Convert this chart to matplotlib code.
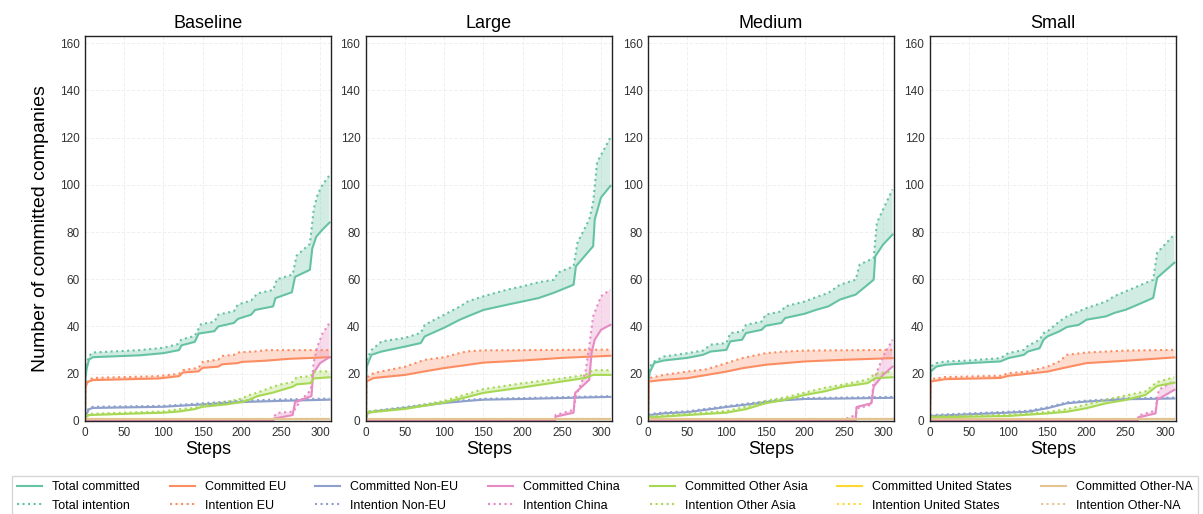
import matplotlib
matplotlib.use("Agg")
import matplotlib.pyplot as plt
from matplotlib.lines import Line2D

plt.rcParams['font.family'] = ['Liberation Sans', 'DejaVu Sans']

panels = ['Baseline', 'Large', 'Medium', 'Small']
regions = ['Total', 'EU', 'Non-EU', 'China', 'Other Asia', 'United States', 'Other-NA']
colors = ['#66c2a5', '#fc8d62', '#8da0cb', '#e78ac3', '#a6d854', '#ffd92f', '#e5c494']

# (step, value) points: committed and intention per region
baseline_committed = {
    'Total': [(0, 0), (0.5, 18), (2, 22), (5, 26), (10, 27), (70, 27.8), (100, 28.7), (120, 30), (123, 32),
              (140, 33.5), (145, 37), (165, 38), (170, 40), (190, 41.5), (195, 43.2), (212, 45), (217, 47),
              (240, 48.5), (243, 52), (264, 54.5), (268, 61), (287, 64), (290, 73), (295, 78), (303, 81), (312, 84)],
    'EU': [(0, 0), (0.5, 14), (3, 16.5), (10, 17.3), (95, 18), (120, 19), (125, 20.5), (145, 21), (150, 22.5),
           (170, 23), (175, 24), (195, 24.5), (200, 25), (230, 25.5), (260, 26.3), (312, 27)],
    'Non-EU': [(0, 0), (0.5, 2), (5, 5), (10, 5.5), (100, 6), (150, 7), (200, 8), (250, 8.5), (312, 9)],
    'China': [(0, 0), (240, 0), (241, 1), (265, 2.5), (268, 8), (289, 10.5), (291, 20), (300, 24.5), (312, 27)],
    'Other Asia': [(0, 0), (0.5, 1.5), (5, 2.5), (50, 3), (100, 3.5), (120, 4), (140, 5), (150, 6), (180, 7),
                   (200, 8), (210, 9), (220, 10.5), (240, 12), (250, 13), (265, 14.5), (270, 15.5), (288, 16),
                   (292, 18), (312, 18.5)],
}
baseline_intention = {
    'Total': [(0, 0), (0.5, 20), (2, 24), (5, 27.5), (10, 29), (70, 30), (100, 31), (118, 32.5), (123, 34.5),
              (140, 36), (148, 41), (165, 42), (170, 45), (190, 46.5), (195, 49.3), (212, 51), (220, 54),
              (240, 55.5), (245, 60), (265, 62), (270, 70), (287, 75), (292, 90), (297, 96), (303, 100), (312, 104)],
    'EU': [(0, 0), (0.5, 15), (5, 17.5), (10, 18.2), (95, 19), (120, 20), (125, 21.5), (145, 22.5), (150, 25),
           (170, 26), (175, 27.5), (190, 28), (195, 29), (220, 29.5), (230, 30), (312, 30)],
    'Non-EU': [(0, 0), (0.5, 2.5), (5, 5.5), (10, 6), (100, 6.4), (150, 7.5), (200, 8.6), (250, 9.1), (312, 9.5)],
    'China': [(0, 0), (240, 0), (241, 2), (246, 3.4), (266, 4), (276, 9), (288, 13), (292, 25), (296, 31),
              (303, 37), (312, 41.5)],
    'Other Asia': [(0, 0), (0.5, 2), (5, 3), (50, 3.5), (100, 4), (120, 5), (140, 5.5), (150, 6.8), (180, 8),
                   (200, 9.5), (210, 11), (220, 12), (240, 14.5), (250, 15.5), (265, 16.5), (270, 18.5),
                   (288, 19), (292, 21), (312, 21)],
}

large_committed = {
    'Total': [(0, 0), (0.5, 20), (1, 23), (7, 28), (20, 29.4), (50, 31.5), (70, 33), (75, 35.8), (100, 39.5),
              (120, 42.9), (130, 44.3), (150, 47), (180, 49.2), (200, 50.6), (220, 52), (240, 54.3), (260, 57),
              (265, 57.7), (268, 65.5), (290, 74), (292, 85.3), (300, 94.6), (312, 99.5)],
    'EU': [(0, 0), (0.5, 16.7), (10, 18.2), (50, 19.5), (75, 21), (100, 22.4), (120, 23.3), (150, 24.7),
           (200, 25.6), (250, 26.7), (312, 27.6)],
    'Non-EU': [(0, 0), (2, 3.4), (10, 4), (50, 5.5), (100, 7.6), (130, 8.5), (150, 9), (200, 9.3), (250, 9.7),
               (312, 10.2)],
    'China': [(0, 0), (241, 0), (242, 1.8), (265, 3.5), (267, 11.9), (285, 17.4), (288, 28.8), (292, 34.4),
              (300, 38.6), (312, 40.7)],
    'Other Asia': [(0, 0), (1, 3.5), (50, 5.1), (100, 7.8), (130, 10.2), (150, 11.9), (200, 14.2), (250, 16.7),
                   (280, 18.2), (290, 19.5), (312, 19.5)],
}
large_intention = {
    'Total': [(0, 0), (0.5, 22), (1, 26), (7, 30), (20, 33.7), (50, 35.2), (70, 37.3), (75, 40.7), (100, 45),
              (120, 48.5), (130, 50.6), (150, 52.8), (180, 55.6), (200, 57), (220, 58.7), (240, 59.8),
              (245, 62.8), (265, 65.5), (270, 75.5), (285, 85.3), (290, 92.5), (295, 109.5), (312, 120)],
    'EU': [(0, 0), (0.5, 18.2), (10, 20.3), (50, 23), (75, 25.9), (100, 27), (120, 28.8), (130, 29.5),
           (150, 29.9), (312, 30.2)],
    'Non-EU': [(0, 0), (2, 3.8), (10, 4.3), (50, 5.9), (100, 8), (130, 8.9), (150, 9.4), (200, 9.7), (250, 10.1),
               (312, 10.5)],
    'China': [(0, 0), (241, 0), (242, 2.5), (265, 4.7), (268, 10.3), (280, 20.4), (285, 31.5), (290, 44.3),
              (300, 52.8), (312, 55.6)],
    'Other Asia': [(0, 0), (1, 4), (50, 5.5), (100, 8.5), (130, 11.5), (150, 13.5), (200, 16), (250, 18),
                   (280, 19.5), (290, 21.5), (312, 21.5)],
}

medium_committed = {
    'Total': [(0, 0), (0.5, 16), (2, 20.4), (8, 24.6), (20, 25.6), (50, 26.7), (70, 28), (80, 29.4), (100, 30.1),
              (105, 33.7), (120, 34.4), (125, 37.2), (145, 38.6), (150, 40.3), (170, 41.5), (175, 43.6),
              (200, 45.4), (215, 47.1), (230, 48.5), (245, 51.4), (265, 53.5), (288, 59.8), (290, 69.7),
              (300, 74.7), (312, 78.9)],
    'EU': [(0, 0), (1, 16.7), (20, 17.4), (50, 18.1), (75, 19.5), (100, 20.9), (120, 22.3), (150, 23.8),
           (200, 25.2), (250, 25.9), (312, 26.6)],
    'Non-EU': [(0, 0), (2, 2.5), (20, 3.2), (50, 3.7), (80, 5), (100, 5.9), (125, 6.9), (150, 7.9), (175, 8.8),
               (200, 9.3), (250, 9.5), (312, 9.8)],
    'China': [(0, 0), (265, 0), (266, 5.9), (285, 7.5), (288, 14.6), (300, 19.5), (312, 23)],
    'Other Asia': [(0, 0), (2, 1.5), (50, 2.5), (100, 3.5), (125, 5), (150, 7.5), (175, 9), (200, 11),
                   (225, 12.5), (250, 14.6), (280, 16), (290, 18.1), (312, 18.5)],
}
medium_intention = {
    'Total': [(0, 0), (0.5, 18), (2, 23), (8, 25.2), (20, 27.3), (50, 28.7), (70, 29.8), (80, 32.3), (100, 33),
              (105, 37.2), (120, 37.9), (125, 40.7), (145, 42.1), (150, 45), (170, 46.4), (175, 48.5),
              (200, 50.6), (215, 52.5), (230, 54.2), (245, 57.7), (265, 59.8), (270, 66.2), (288, 69),
              (292, 83.9), (300, 89.6), (312, 98)],
    'EU': [(0, 0), (1, 18.1), (20, 19.5), (50, 20.9), (75, 21.9), (100, 24.5), (120, 26.6), (150, 28.7),
           (175, 29.4), (200, 29.8), (312, 30.1)],
    'Non-EU': [(0, 0), (2, 2.9), (20, 3.6), (50, 4.1), (80, 5.4), (100, 6.3), (125, 7.3), (150, 8.3), (175, 9.2),
               (200, 9.7), (250, 9.9), (312, 10.2)],
    'China': [(0, 0), (245, 0), (265, 2.5), (268, 5.4), (285, 6.8), (288, 17.4), (300, 27.3), (312, 34.4)],
    'Other Asia': [(0, 0), (2, 2), (50, 3), (100, 4.2), (125, 6), (150, 8.5), (175, 10), (200, 12), (225, 14),
                   (250, 15.5), (280, 17.5), (290, 20), (312, 21)],
}

small_committed = {
    'Total': [(0, 0), (0.5, 18), (1, 20.9), (8, 23), (20, 23.8), (50, 24.5), (90, 25.2), (100, 26.6), (120, 28),
              (125, 29.4), (140, 30.8), (145, 34.4), (150, 35.8), (165, 37.9), (175, 39.8), (190, 40.7),
              (200, 42.9), (225, 44.3), (235, 45.7), (250, 47.1), (265, 49.2), (285, 52.1), (290, 60.6),
              (312, 67)],
    'EU': [(0, 0), (1, 16.7), (20, 17.7), (90, 18.2), (100, 19.1), (150, 20.9), (170, 22.4), (200, 24.5),
           (250, 25.5), (312, 26.9)],
    'Non-EU': [(0, 0), (1, 2.1), (50, 2.8), (100, 3.5), (125, 3.9), (150, 5.4), (175, 7.5), (200, 8.2),
               (250, 9.2), (312, 9.5)],
    'China': [(0, 0), (265, 0), (266, 1.5), (288, 3.2), (290, 8.9), (312, 13.2)],
    'Other Asia': [(0, 0), (1, 1.5), (100, 2.1), (150, 3.2), (175, 3.9), (200, 5.4), (225, 7.5), (250, 8.9),
                   (275, 11), (290, 14.8), (312, 16.2)],
}
small_intention = {
    'Total': [(0, 0), (0.5, 20), (1, 23), (8, 24.5), (20, 25.2), (50, 25.6), (90, 26.6), (100, 28.7), (120, 30.1),
              (125, 31.8), (140, 34.4), (145, 37.2), (150, 37.9), (165, 42.1), (175, 44.3), (190, 46.4),
              (200, 47.8), (225, 50.6), (235, 52.8), (250, 54.9), (265, 57), (285, 59.8), (290, 71.2), (312, 79)],
    'EU': [(0, 0), (1, 17.7), (20, 18.6), (90, 19.1), (100, 20.2), (125, 20.9), (150, 23), (165, 25.2),
           (175, 28), (200, 29), (250, 29.8), (312, 30.1)],
    'Non-EU': [(0, 0), (1, 2.5), (50, 3.2), (100, 3.9), (125, 4.3), (150, 5.8), (175, 7.9), (200, 8.6),
               (250, 9.6), (312, 9.9)],
    'China': [(0, 0), (265, 0), (266, 2.3), (288, 4.4), (292, 13.2), (312, 17)],
    'Other Asia': [(0, 0), (1, 2), (100, 2.6), (150, 3.8), (175, 5), (200, 7), (225, 9), (250, 10.8), (275, 12.5),
                   (290, 16.5), (312, 18.5)],
}

# United States and Other-NA stay flat at one company in every scenario
flat_regions = {'United States': [(0, 1), (312, 1)], 'Other-NA': [(0, 1), (312, 1)]}

committed = [baseline_committed, large_committed, medium_committed, small_committed]
intention = [baseline_intention, large_intention, medium_intention, small_intention]

fig = plt.figure(figsize=(12.03, 5.14), dpi=100)
lefts = [0.0707, 0.3042, 0.5387, 0.773]

for k, name in enumerate(panels):
    ax = fig.add_axes([lefts[k], 0.181, 0.2045, 0.749])
    for r, reg in enumerate(regions):
        if reg in flat_regions:
            pc = pi = flat_regions[reg]
        else:
            pc = committed[k][reg]
            pi = intention[k][reg]
        xc = [p[0] for p in pc]
        yc = [p[1] for p in pc]
        xi = [p[0] for p in pi]
        yi = [p[1] for p in pi]
        ax.fill(xc + xi[::-1], yc + yi[::-1], color=colors[r], alpha=0.3, lw=0)
        ax.plot(xc, yc, color=colors[r], lw=1.5)
        ax.plot(xi, yi, color=colors[r], lw=1.5, ls=':')
    ax.set_xlim(0, 314)
    ax.set_ylim(0, 163)
    ax.set_xticks(range(0, 301, 50))
    ax.set_yticks(range(0, 161, 20))
    ax.grid(True, ls='--', color='#f0f0f0', lw=0.7)
    ax.set_axisbelow(True)
    ax.tick_params(length=0, labelsize=8.5, pad=4, colors='#333333')
    for s in ax.spines.values():
        s.set_color('#222222')
        s.set_linewidth(1.0)
    ax.set_title(name, fontsize=13, pad=6)
    ax.set_xlabel('Steps', fontsize=13, labelpad=2)
    if k == 0:
        ax.set_ylabel('Number of committed companies', fontsize=14, labelpad=8)

handles = []
for r, reg in enumerate(regions):
    lab_c = 'Total committed' if reg == 'Total' else 'Committed ' + reg
    lab_i = 'Total intention' if reg == 'Total' else 'Intention ' + reg
    handles.append(Line2D([], [], color=colors[r], lw=1.5, label=lab_c))
    handles.append(Line2D([], [], color=colors[r], lw=1.5, ls=':', label=lab_i))

fig.legend(handles=handles, ncol=7, loc='lower left', bbox_to_anchor=(0.008, -0.01, 0.99, 0.08),
           mode='expand', fontsize=9, frameon=True, edgecolor='#cccccc', fancybox=False,
           handlelength=2.0, handletextpad=0.8, columnspacing=1.2, borderaxespad=0.2)

fig.savefig('out.png', dpi=100)
